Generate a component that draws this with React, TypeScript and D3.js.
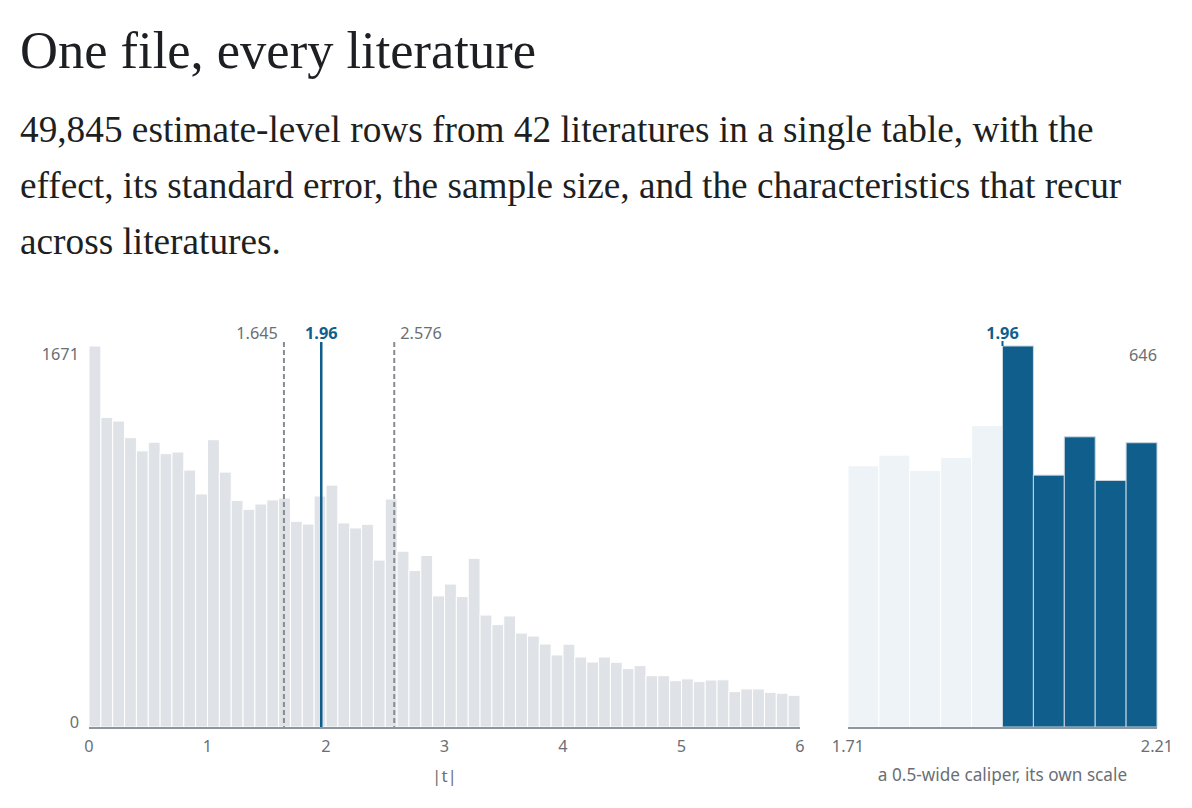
import { useLayoutEffect, useRef, useState } from 'react';
import * as d3 from 'd3';

// |t| histogram, 0.1-wide bins from 0 to 6
const tBinWidth = 0.1;
const tCounts = [
  1671, 1358, 1342, 1269, 1211, 1249, 1199, 1206, 1127, 1022,
  1260, 1118, 994, 955, 978, 996, 1004, 902, 890, 1013,
  1061, 895, 873, 889, 732, 1000, 771, 686, 752, 575,
  627, 572, 740, 491, 449, 487, 412, 399, 364, 316,
  363, 307, 285, 307, 284, 256, 269, 225, 225, 203,
  211, 199, 206, 207, 155, 167, 167, 152, 148, 139,
];
const tTicks = [0, 1, 2, 3, 4, 5, 6];

// caliper around 1.96, 0.05-wide bins from 1.71 to 2.21
const caliperStart = 1.71;
const caliperBinWidth = 0.05;
const caliperCounts = [443, 461, 435, 457, 511, 646, 427, 492, 418, 482];
const caliperTicks = [1.71, 2.21];

const thresholds = [
  { value: 1.645, label: '1.645', main: false },
  { value: 1.96, label: '1.96', main: true },
  { value: 2.576, label: '2.576', main: false },
];

const title = 'One file, every literature';
const subtitleLines = [
  '49,845 estimate-level rows from 42 literatures in a single table, with the',
  'effect, its standard error, the sample size, and the characteristics that recur',
  'across literatures.',
];

const SANS = '"Noto Sans", "Open Sans", sans-serif';
const SERIF = '"Liberation Serif", "DejaVu Serif", serif';
const BLUE = '#0f5e8b';
const GREY_TEXT = '#6b6f75';
const LABEL_SIZE = 16.3;

// widths the heading lines take in the reference layout
const headWidths = [516, 1063, 1113, 262];
const headBase = [47, 30, 30, 30];

export default function App() {
  const width = 1192;
  const height = 808;
  const baseY = 727;
  const topY = 346;

  const headRefs = useRef<(SVGTextElement | null)[]>([]);
  const [sizes, setSizes] = useState<number[]>(headBase);

  useLayoutEffect(() => {
    const next = headRefs.current.map((el, i) => {
      if (!el) return headBase[i];
      const len = el.getComputedTextLength();
      return len > 0 ? (headBase[i] * headWidths[i]) / len : headBase[i];
    });
    // body lines share one size so they read as one paragraph
    const body = d3.mean(next.slice(1, 3)) ?? headBase[1];
    setSizes([next[0], body, body, body]);
  }, []);

  const x = d3.scaleLinear().domain([0, 6]).range([89, 800]);
  const y = d3.scaleLinear().domain([0, d3.max(tCounts) ?? 1]).range([baseY, topY]);

  const caliperEnd = caliperStart + caliperBinWidth * caliperCounts.length;
  const xr = d3.scaleLinear().domain([caliperStart, caliperEnd]).range([848, 1157]);
  const yr = d3.scaleLinear().domain([0, d3.max(caliperCounts) ?? 1]).range([baseY, topY]);

  return (
    <svg
      width={width}
      height={height}
      style={{ position: 'absolute', left: 0, top: 0, background: '#fff' }}
    >
      {/* Heading */}
      <text
        ref={(el) => {
          headRefs.current[0] = el;
        }}
        x={20}
        y={68}
        fontFamily={SERIF}
        fontSize={sizes[0]}
        fill="#1d1f22"
      >
        {title}
      </text>
      {subtitleLines.map((line, i) => (
        <text
          key={i}
          ref={(el) => {
            headRefs.current[i + 1] = el;
          }}
          x={20}
          y={142 + i * 56}
          fontFamily={SERIF}
          fontSize={sizes[i + 1]}
          fill="#1d1f22"
        >
          {line}
        </text>
      ))}

      {/* Left histogram */}
      <g>
        {tCounts.map((c, i) => (
          <rect
            key={i}
            x={x(i * tBinWidth)}
            y={y(c)}
            width={x((i + 1) * tBinWidth) - x(i * tBinWidth)}
            height={baseY - y(c)}
            fill="#dfe2e6"
            stroke="#fff"
            strokeWidth={1}
          />
        ))}
        <line x1={x(0)} x2={x(6)} y1={baseY + 1} y2={baseY + 1} stroke="#8e959c" strokeWidth={2} />
        {tTicks.map((t) => (
          <text
            key={t}
            x={x(t)}
            y={752}
            textAnchor="middle"
            fontFamily={SANS}
            fontSize={LABEL_SIZE}
            fill={GREY_TEXT}
          >
            {t}
          </text>
        ))}
        <text x={x(3)} y={782} textAnchor="middle" fontFamily={SANS} fontSize={17} fill={GREY_TEXT}>
          |t|
        </text>
        <text x={79} y={360} textAnchor="end" fontFamily={SANS} fontSize={LABEL_SIZE} fill={GREY_TEXT}>
          {d3.max(tCounts)}
        </text>
        <text x={79} y={728} textAnchor="end" fontFamily={SANS} fontSize={LABEL_SIZE} fill={GREY_TEXT}>
          0
        </text>

        {thresholds.map((th) => {
          const px = x(th.value);
          return (
            <g key={th.label}>
              <line
                x1={px}
                x2={px}
                y1={342}
                y2={baseY}
                stroke={th.main ? BLUE : '#878c93'}
                strokeWidth={th.main ? 2.5 : 2}
                strokeDasharray={th.main ? undefined : '5,3'}
              />
              <text
                x={th.main ? px : th.value < 1.96 ? px - 6 : px + 6}
                y={339}
                textAnchor={th.main ? 'middle' : th.value < 1.96 ? 'end' : 'start'}
                fontFamily={SANS}
                fontSize={LABEL_SIZE}
                fontWeight={th.main ? 700 : 400}
                fill={th.main ? BLUE : GREY_TEXT}
              >
                {th.label}
              </text>
            </g>
          );
        })}
      </g>

      {/* Caliper histogram */}
      <g>
        {caliperCounts.map((c, i) => {
          const lo = caliperStart + i * caliperBinWidth;
          const hi = lo + caliperBinWidth;
          const above = lo >= 1.96 - 1e-9;
          return (
            <rect
              key={i}
              x={xr(lo)}
              y={yr(c)}
              width={xr(hi) - xr(lo)}
              height={baseY - yr(c)}
              fill={above ? BLUE : '#eef3f7'}
              stroke={above ? '#c9d6e0' : '#fff'}
              strokeWidth={1}
            />
          );
        })}
        <line x1={xr(caliperStart)} x2={xr(caliperEnd)} y1={baseY + 1} y2={baseY + 1} stroke="#8e959c" strokeWidth={2} />
        <line x1={xr(1.96)} x2={xr(1.96)} y1={341} y2={346} stroke={BLUE} strokeWidth={2} />
        <text
          x={xr(1.96)}
          y={339}
          textAnchor="middle"
          fontFamily={SANS}
          fontSize={LABEL_SIZE}
          fontWeight={700}
          fill={BLUE}
        >
          1.96
        </text>
        <text x={xr(caliperEnd)} y={361} textAnchor="end" fontFamily={SANS} fontSize={LABEL_SIZE} fill={GREY_TEXT}>
          {d3.max(caliperCounts)}
        </text>
        {caliperTicks.map((t) => (
          <text
            key={t}
            x={xr(t)}
            y={752}
            textAnchor="middle"
            fontFamily={SANS}
            fontSize={LABEL_SIZE}
            fill={GREY_TEXT}
          >
            {t.toFixed(2)}
          </text>
        ))}
        <text
          x={(xr(caliperStart) + xr(caliperEnd)) / 2 + 0}
          y={781}
          textAnchor="middle"
          fontFamily={SANS}
          fontSize={17.2}
          fill={GREY_TEXT}
        >
          a 0.5-wide caliper, its own scale
        </text>
      </g>
    </svg>
  );
}
